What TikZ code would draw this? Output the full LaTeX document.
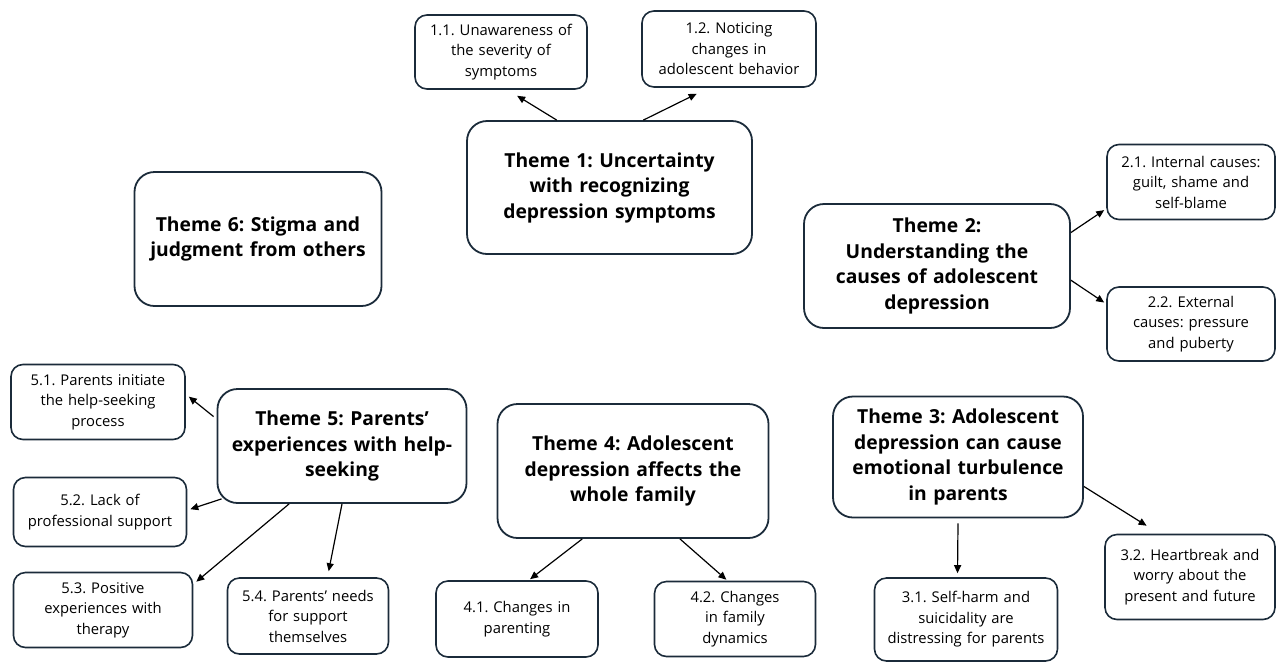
\documentclass[tikz,border=0pt]{standalone}
\usepackage{fontspec}
\setmainfont{Open Sans}
\usetikzlibrary{calc,arrows.meta}
\definecolor{boxline}{HTML}{1B2B3A}
\frenchspacing
\tikzset{
  theme/.style={draw=boxline, line width=1.8pt, rounded corners=20pt, align=center,
    inner sep=2pt, font=\fontsize{19.3}{25.5}\selectfont\bfseries},
  sub/.style={draw=boxline, line width=1.6pt, rounded corners=12pt, align=center,
    inner sep=2pt, font=\fontsize{14.8}{20.5}\selectfont},
  arr/.style={-{Triangle[length=8pt,width=7pt]}, line width=1.2pt, black},
}
\newcommand{\bx}[7]{% style, name, cx, cy, w, h, text
  \node[#1, minimum width=#5pt, minimum height=#6pt, text width=#5pt-8pt] (#2) at (#3,#4) {#7};}
\begin{document}
\begin{tikzpicture}[x=1pt,y=-1pt]
\useasboundingbox (0,0) rectangle (1276,662);
\bx{sub}{n11}{501}{52}{172}{74}{1.1. Unawareness of\\the severity of\\symptoms}
\bx{sub}{n12}{729}{49}{174}{76}{1.2. Noticing\\changes in\\adolescent behavior}
\bx{theme}{T1}{609.5}{187.5}{285}{133}{Theme 1: Uncertainty\\with recognizing\\depression symptoms}
\bx{theme}{T6}{258}{239}{247}{134}{Theme 6: Stigma and\\judgment from others}
\bx{theme}{T2}{937}{266}{266}{124}{Theme 2:\\Understanding the\\causes of adolescent\\depression}
\bx{sub}{n21}{1191}{182}{168}{75}{2.1. Internal causes:\\guilt, shame and\\self-blame}
\bx{sub}{n22}{1191}{324}{168}{74}{2.2. External\\causes: pressure\\and puberty}
\bx{sub}{n51}{98}{402}{174}{75}{5.1. Parents initiate\\the help-seeking\\process}
\bx{theme}{T5}{342}{446}{249}{114}{Theme 5: Parents’\\experiences with help-\\seeking}
\bx{sub}{n52}{100}{512}{173}{69}{5.2. Lack of\\professional support}
\bx{sub}{n53}{103}{610}{179}{75}{5.3. Positive\\experiences with\\therapy}
\bx{sub}{n54}{308}{616}{161}{76}{5.4. Parents’ needs\\for support\\themselves}
\bx{theme}{T4}{633}{471}{271}{134}{Theme 4: Adolescent\\depression affects the\\whole family}
\bx{sub}{n41}{517}{619}{162}{76}{4.1. Changes in\\parenting}
\bx{sub}{n42}{735}{619}{161}{75}{4.2. Changes\\in family\\dynamics}
\bx{theme}{T3}{958}{457}{250}{121}{Theme 3: Adolescent\\depression can cause\\emotional turbulence\\in parents}
\bx{sub}{n31}{966}{619.5}{183}{83}{3.1. Self-harm and\\suicidality are\\distressing for parents}
\bx{sub}{n32}{1190}{577}{170}{85}{3.2. Heartbreak and\\worry about the\\present and future}

\draw[arr] ($(T1.north west)!0.316!(T1.north east)$) -- ($(n11.south west)!0.593!(n11.south east)+(0,6)$);
\draw[arr] ($(T1.north west)!0.618!(T1.north east)$) -- ($(n12.south west)!0.316!(n12.south east)+(0,6)$);
\draw[arr] ($(T2.north east)!0.234!(T2.south east)$) -- ($(n21.north west)!0.867!(n21.south west)+(-2,0)$);
\draw[arr] ($(T2.north east)!0.613!(T2.south east)$) -- ($(n22.north west)!0.216!(n22.south west)+(-2,0)$);
\draw[arr] ($(T5.north west)!0.246!(T5.south west)+(-3,0)$) -- ($(n51.north east)!0.43!(n51.south east)+(3,0)$);
\draw[arr] ($(T5.south west)+(5,-5)$) -- ($(n52.north east)!0.46!(n52.south east)+(3,0)$);
\draw[arr] ($(T5.south west)!0.289!(T5.south east)$) -- ($(n53.north east)+(3,10)$);
\draw[arr] ($(T5.south west)!0.5!(T5.south east)$) -- ($(n54.north west)!0.627!(n54.north east)+(0,-6)$);
\draw[arr] ($(T4.south west)!0.314!(T4.south east)$) -- ($(n41.north west)!0.58!(n41.north east)+(0,-1)$);
\draw[arr] ($(T4.south west)!0.672!(T4.south east)$) -- ($(n42.north west)!0.447!(n42.north east)+(0,-1)$);
\draw[arr] ($(T3.south)+(0,5)$) -- ($(n31.north west)!0.454!(n31.north east)+(0,-4)$);
\draw[arr] ($(T3.north east)!0.74!(T3.south east)$) -- ($(n32.north west)!0.247!(n32.north east)+(0,-8)$);
\end{tikzpicture}
\end{document}
